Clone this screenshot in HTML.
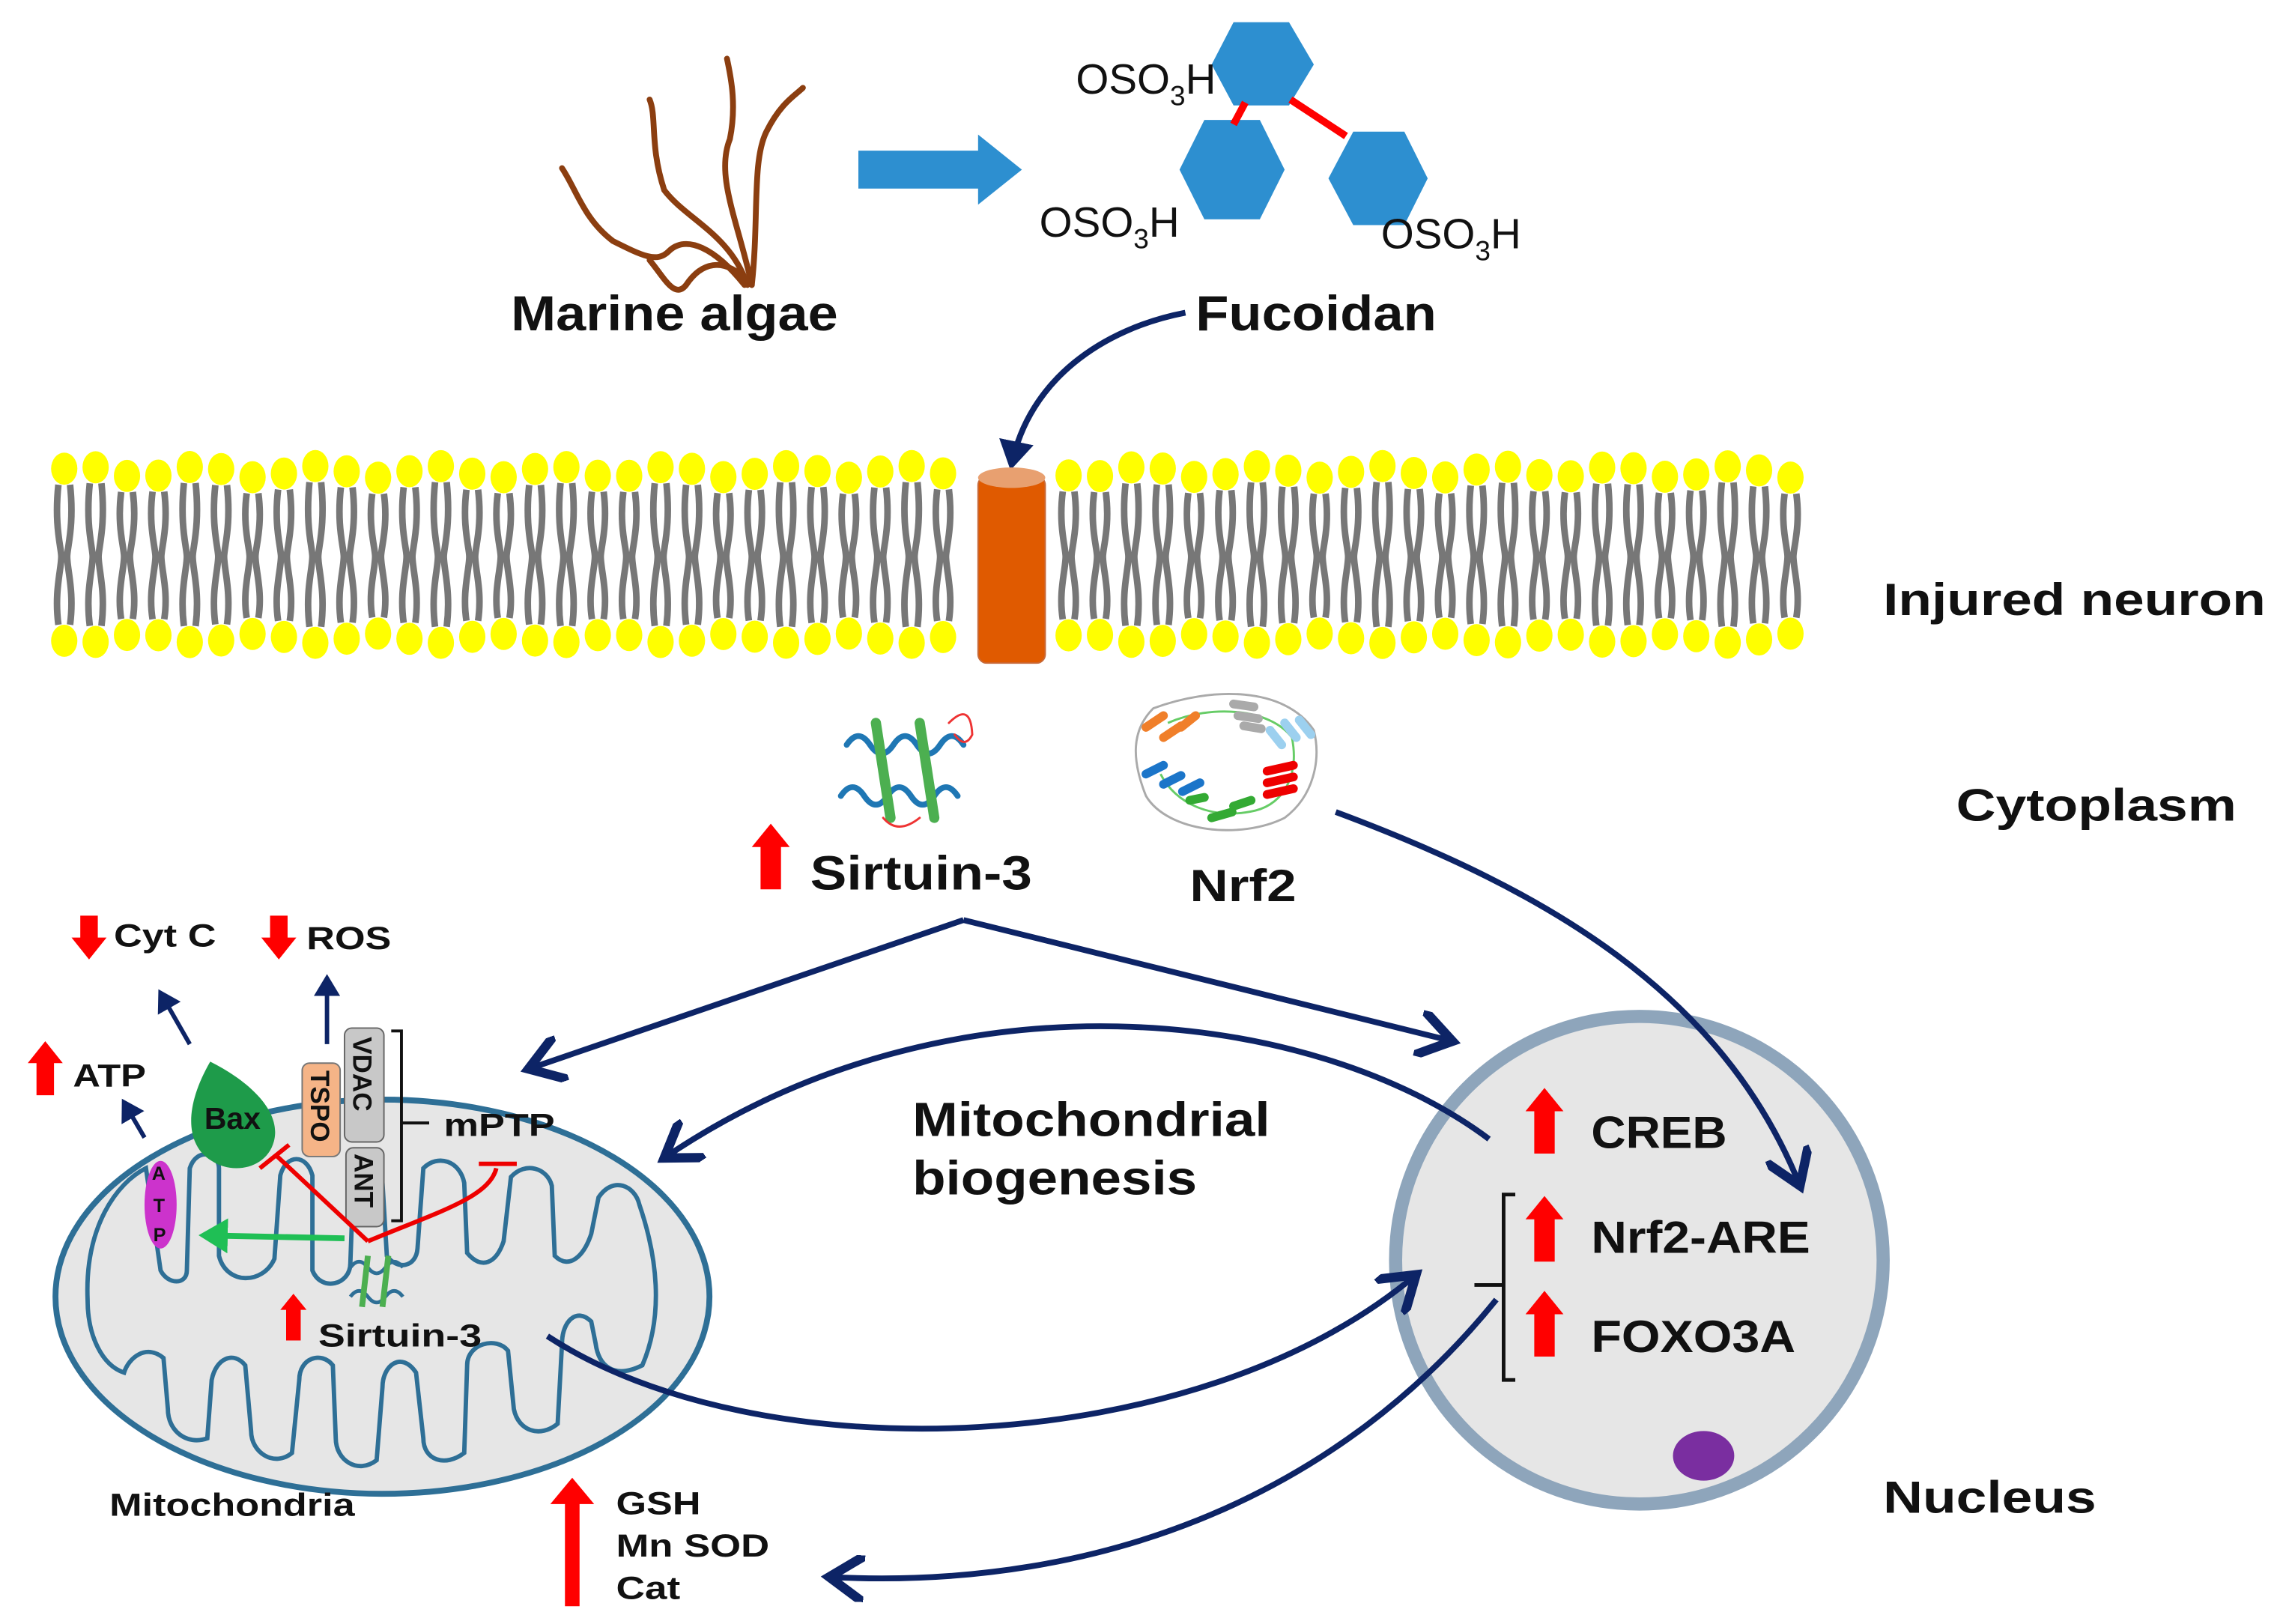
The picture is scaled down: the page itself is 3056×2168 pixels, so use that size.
<!DOCTYPE html>
<html><head><meta charset="utf-8"><style>
html,body{margin:0;padding:0;background:#fff;}
svg{display:block;}
text{font-family:"Liberation Sans",Arial,sans-serif;font-weight:bold;fill:#111;}
</style></head><body>
<svg id="s" width="3056" height="2168" viewBox="0 0 1568 1112" xmlns="http://www.w3.org/2000/svg">
<defs>
<marker id="ah" markerWidth="8" markerHeight="8" refX="6" refY="4" orient="auto" markerUnits="strokeWidth"><path d="M0,0 L6,4 L0,8" fill="none" stroke="#0d2466" stroke-width="1.6"/></marker>
<marker id="ahs" markerWidth="6" markerHeight="6" refX="4" refY="3" orient="auto" markerUnits="strokeWidth"><path d="M0,0 L5,3 L0,6 Z" fill="#0d2466"/></marker>
<marker id="ahg" markerWidth="6" markerHeight="6" refX="4" refY="3" orient="auto" markerUnits="strokeWidth"><path d="M0,0 L5,3 L0,6 Z" fill="#1fbf55"/></marker>
<g id="up"><path d="M-13,2 L0,-14 L13,2 L7,2 L7,31 L-7,31 L-7,2 Z" fill="#f00"/></g>
<g id="ups"><path d="M-9,1 L0,-10 L9,1 L5,1 L5,22 L-5,22 L-5,1 Z" fill="#f00"/></g>
</defs>

<!-- algae -->
<g fill="none" stroke="#8b3e10" stroke-width="4" stroke-linecap="round">
<path d="M515,195 C505,150 490,120 500,95 C505,70 500,50 498,40"/>
<path d="M515,195 C520,150 515,110 525,90 C535,70 545,65 550,60"/>
<path d="M512,195 C500,160 470,150 455,130 C445,100 450,80 445,68"/>
<path d="M510,195 C490,170 470,160 458,172 C450,180 440,175 420,165 C400,150 395,130 385,115"/>
<path d="M512,192 C495,175 480,180 470,195 C462,205 455,190 445,178"/>
</g>
<path d="M588,103 L670,103 L670,92 L700,116 L670,140 L670,129 L588,129 Z" fill="#2d8fd0"/>
<g fill="#2d8fd0">
<polygon points="845,15 883,15 900,44 883,72 845,72 830,44"/>
<polygon points="825,82 863,82 880,116 863,150 825,150 808,116"/>
<polygon points="927,90 962,90 978,122 962,154 927,154 910,122"/>
</g>
<g stroke="#f00" stroke-width="5"><line x1="853" y1="70" x2="845" y2="85"/><line x1="884" y1="68" x2="922" y2="93"/></g>
<text x="737" y="64" style="font-weight:normal" font-size="29">OSO<tspan font-size="19" dy="8">3</tspan><tspan dy="-8">H</tspan></text>
<text x="712" y="162" style="font-weight:normal" font-size="29">OSO<tspan font-size="19" dy="8">3</tspan><tspan dy="-8">H</tspan></text>
<text x="946" y="170" style="font-weight:normal" font-size="29">OSO<tspan font-size="19" dy="8">3</tspan><tspan dy="-8">H</tspan></text>
<text x="350" y="226" font-size="34" textLength="224" lengthAdjust="spacingAndGlyphs">Marine algae</text>
<text x="819" y="226" font-size="34" textLength="165" lengthAdjust="spacingAndGlyphs">Fucoidan</text>
<path d="M812,214 C755,225 705,260 693,318" fill="none" stroke="#0d2466" stroke-width="4" marker-end="url(#ahs)"/>

<g id="mem"></g>
<rect x="670" y="326" width="46" height="128" rx="6" fill="#e05a00" stroke="#c76a3a"/>
<ellipse cx="693" cy="327" rx="23" ry="7" fill="#e8a070"/>

<text x="1290" y="421" font-size="31" textLength="262" lengthAdjust="spacingAndGlyphs">Injured neuron</text>
<text x="1340" y="562" font-size="31" textLength="192" lengthAdjust="spacingAndGlyphs">Cytoplasm</text>
<text x="1290" y="1036" font-size="31" textLength="146" lengthAdjust="spacingAndGlyphs">Nucleus</text>

<!-- sirtuin protein -->
<g fill="none" stroke-linecap="round">
<path d="M580,510 q8,-12 16,0 t16,0 t16,0 t16,0 t16,0" stroke="#1f77b4" stroke-width="4"/>
<path d="M576,545 q8,-12 16,0 t16,0 t16,0 t16,0 t16,0" stroke="#1f77b4" stroke-width="4"/>
<path d="M600,495 L610,560" stroke="#4caf50" stroke-width="7"/>
<path d="M630,495 L640,560" stroke="#4caf50" stroke-width="7"/>
<path d="M650,495 q15,-15 16,8 q-5,10 -12,0" stroke="#e33" stroke-width="1.5"/>
<path d="M605,560 q10,12 25,0" stroke="#e33" stroke-width="1.5"/>
</g>
<use href="#up" x="528" y="578"/>
<text x="555" y="609" font-size="33" textLength="152" lengthAdjust="spacingAndGlyphs">Sirtuin-3</text>

<!-- nrf2 protein -->
<g fill="none" stroke-width="1.5">
<path d="M790,485 C830,470 880,470 900,500 C905,520 900,545 880,560 C850,575 800,570 785,545 C775,520 775,500 790,485 Z" stroke="#aaa"/>
<path d="M800,495 C830,482 870,485 885,505 C890,530 880,550 860,555 C830,562 805,550 795,530" stroke="#6c6"/>
</g>
<g stroke-width="6" stroke-linecap="round">
<path d="M785,498 l12,-8 M797,505 l12,-8 M809,498 l10,-8" stroke="#f07f2a"/>
<path d="M845,482 l14,2 M848,490 l14,2 M852,497 l12,2" stroke="#aaa"/>
<path d="M870,500 l8,10 M880,495 l8,10 M890,493 l8,10" stroke="#9cd0ef"/>
<path d="M785,530 l12,-6 M797,537 l12,-6 M810,542 l12,-6" stroke="#1b75c9"/>
<path d="M830,560 l14,-4 M845,552 l12,-4 M815,548 l10,-2" stroke="#3a3"/>
<path d="M868,528 l18,-4 M868,536 l18,-4 M868,544 l18,-4" stroke="#e00"/>
</g>
<text x="815" y="617" font-size="31" textLength="73" lengthAdjust="spacingAndGlyphs">Nrf2</text>

<!-- nucleus -->
<circle cx="1123" cy="863" r="167" fill="#e6e6e6" stroke="#8ea5bb" stroke-width="9"/>
<ellipse cx="1167" cy="997" rx="21" ry="17" fill="#7a2ea0"/>
<use href="#up" x="1058" y="759"/>
<use href="#up" x="1058" y="833"/>
<use href="#up" x="1058" y="898"/>
<text x="1090" y="786" font-size="31" textLength="93" lengthAdjust="spacingAndGlyphs">CREB</text>
<text x="1090" y="858" font-size="31" textLength="150" lengthAdjust="spacingAndGlyphs">Nrf2-ARE</text>
<text x="1090" y="926" font-size="31" textLength="140" lengthAdjust="spacingAndGlyphs">FOXO3A</text>
<path d="M1038,818 L1030,818 L1030,945 L1038,945 M1030,880 L1010,880" fill="none" stroke="#111" stroke-width="2.5"/>
<text x="625" y="778" font-size="33" textLength="245" lengthAdjust="spacingAndGlyphs">Mitochondrial</text>
<text x="625" y="818" font-size="33" textLength="195" lengthAdjust="spacingAndGlyphs">biogenesis</text>

<!-- mitochondria -->
<ellipse cx="262" cy="888" rx="224" ry="135" fill="#e6e6e6" stroke="#2e6f96" stroke-width="4"/>
<path fill="none" stroke="#2e6f96" stroke-width="3" d="M60,890 C58,840 80,810 100,800 L110,870 C115,880 128,880 128,870 L130,800 C135,785 150,790 150,800 L150,860 C155,880 180,880 188,862 L192,805 C196,790 210,790 214,805 L214,870 C220,885 240,880 240,865 L242,810 C246,795 260,795 262,810 L265,860 C272,870 285,868 286,855 L290,800 C300,790 315,795 318,810 L320,858 C330,870 340,865 345,850 L350,806 C360,795 375,800 378,812 L380,860 C390,870 400,860 405,845 L410,820 C420,805 435,812 438,825 C450,860 455,900 440,935 C420,945 410,935 408,920 L405,905 C395,895 385,905 385,920 L382,975 C370,985 355,980 352,965 L348,925 C340,915 320,920 320,935 L318,995 C305,1005 290,1000 290,985 L285,940 C275,925 262,935 262,950 L258,1000 C245,1010 230,1000 230,985 L228,935 C220,925 205,930 205,945 L200,995 C188,1005 172,995 172,980 L168,935 C160,925 148,930 145,945 L142,985 C128,990 115,980 115,965 L112,930 C100,920 88,930 85,940 C70,935 60,915 60,890 Z"/>
<ellipse cx="110" cy="825" rx="11" ry="30" fill="#cc33cc"/>
<text x="104" y="808" font-size="13">A</text><text x="105" y="830" font-size="13">T</text><text x="105" y="850" font-size="13">P</text>
<path d="M144,727 C170,740 192,760 188,780 C184,800 160,805 145,795 C128,785 125,760 144,727 Z" fill="#1e9b4a"/>
<text x="140" y="773" font-size="21">Bax</text>
<rect x="207" y="728" width="26" height="64" rx="5" fill="#f5b487" stroke="#777"/>
<text transform="translate(213,733) rotate(90)" font-size="18">TSPO</text>
<rect x="236" y="704" width="27" height="78" rx="5" fill="#c8c8c8" stroke="#666"/>
<text transform="translate(242,710) rotate(90)" font-size="18">VDAC</text>
<rect x="237" y="786" width="26" height="54" rx="5" fill="#c8c8c8" stroke="#666"/>
<text transform="translate(243,790) rotate(90)" font-size="18">ANT</text>
<path d="M268,706 L275,706 L275,836 L268,836 M275,769 L294,769" fill="none" stroke="#111" stroke-width="2"/>
<text x="304" y="778" font-size="22" textLength="76" lengthAdjust="spacingAndGlyphs">mPTP</text>
<g fill="none" stroke="#e00" stroke-width="3">
<path d="M252,850 L190,792 M178,800 L198,784"/>
<path d="M252,850 C300,830 335,820 340,800 M328,797 L354,797"/>
</g>
<path d="M236,848 L140,846" stroke="#1fbf55" stroke-width="4" marker-end="url(#ahg)"/>
<g fill="none" stroke-width="2.5"><path d="M240,868 q6,-8 12,0 t12,0 t12,0" stroke="#2e6f96"/><path d="M240,888 q6,-8 12,0 t12,0 t12,0" stroke="#2e6f96"/><path d="M252,860 L248,895 M266,860 L262,895" stroke="#4caf50" stroke-width="4"/></g>
<use href="#ups" x="201" y="896"/>
<text x="218" y="922" font-size="22" textLength="112" lengthAdjust="spacingAndGlyphs">Sirtuin-3</text>
<g stroke="#0d2466" stroke-width="3" fill="none">
<path d="M130,715 L110,680" marker-end="url(#ahs)"/>
<path d="M224,715 L224,670" marker-end="url(#ahs)"/>
<path d="M99,779 L85,755" marker-end="url(#ahs)"/>
</g>
<g fill="#f00">
<path d="M55,627 L67,627 L67,642 L73,642 L61,657 L49,642 L55,642 Z"/>
<path d="M185,627 L197,627 L197,642 L203,642 L191,657 L179,642 L185,642 Z"/>
<path d="M25,750 L37,750 L37,728 L43,728 L31,713 L19,728 L25,728 Z"/>
</g>
<text x="78" y="648" font-size="22" textLength="70" lengthAdjust="spacingAndGlyphs">Cyt C</text>
<text x="210" y="650" font-size="22" textLength="58" lengthAdjust="spacingAndGlyphs">ROS</text>
<text x="50" y="744" font-size="22" textLength="50" lengthAdjust="spacingAndGlyphs">ATP</text>
<text x="75" y="1038" font-size="22" textLength="168" lengthAdjust="spacingAndGlyphs">Mitochondria</text>
<path d="M387,1100 L387,1030 L377,1030 L392,1012 L407,1030 L397,1030 L397,1100 Z" fill="#f00"/>
<text x="422" y="1037" font-size="22" textLength="58" lengthAdjust="spacingAndGlyphs">GSH</text>
<text x="422" y="1066" font-size="22" textLength="105" lengthAdjust="spacingAndGlyphs">Mn SOD</text>
<text x="422" y="1095" font-size="22" textLength="44" lengthAdjust="spacingAndGlyphs">Cat</text>

<!-- connectors on top -->
<g fill="none" stroke="#0d2466" stroke-width="4">
<path d="M915,556 C1060,610 1180,680 1233,812" marker-end="url(#ah)"/>
<path d="M660,630 L362,732" marker-end="url(#ah)"/>
<path d="M660,630 L995,713" marker-end="url(#ah)"/>
<path d="M1020,780 C900,690 650,660 455,793" marker-end="url(#ah)"/>
<path d="M375,915 C520,1010 820,1000 970,873" marker-end="url(#ah)"/>
<path d="M1025,890 C920,1020 760,1090 568,1080" marker-end="url(#ah)"/>
</g>
</svg>
<script>
var g=document.getElementById('mem'),h='';
for(var x=44;x<1245;x+=21.5){
 if(x>660&&x<724)continue;
 var o=(Math.sin(x*0.37)*4);
 h+='<ellipse cx="'+x+'" cy="'+(323+o)+'" rx="9" ry="11" fill="#ffff00"/>';
 h+='<ellipse cx="'+x+'" cy="'+(437-o*0.8)+'" rx="9" ry="11" fill="#ffff00"/>';
 h+='<path d="M'+(x-4)+','+(334+o)+' C'+(x-7)+',360 '+(x-2)+',375 '+(x-2)+',381 C'+(x-2)+',390 '+(x-7)+',405 '+(x-4)+','+(426-o*0.8)+' M'+(x+4)+','+(334+o)+' C'+(x+7)+',360 '+(x+2)+',375 '+(x+2)+',381 C'+(x+2)+',390 '+(x+7)+',405 '+(x+4)+','+(426-o*0.8)+'" fill="none" stroke="#777" stroke-width="4.5"/>';
}
g.innerHTML=h;
</script>
</body></html>
